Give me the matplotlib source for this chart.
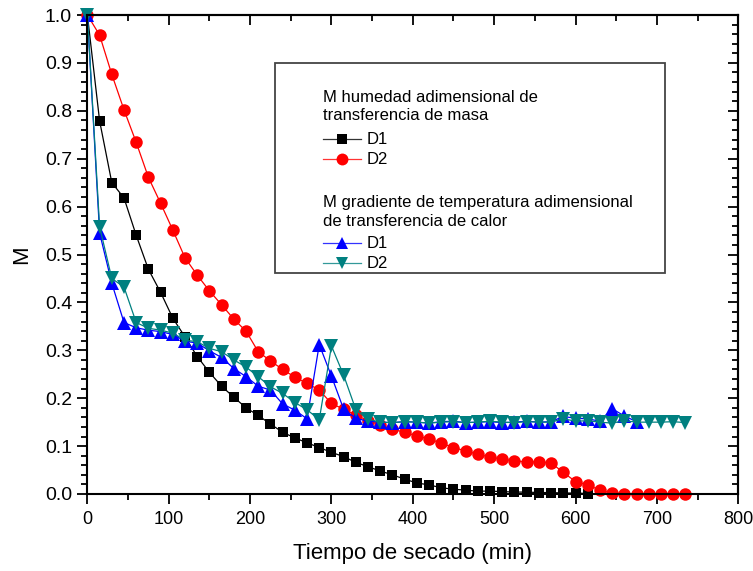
import matplotlib
matplotlib.use("Agg")
import matplotlib.pyplot as plt
from matplotlib.ticker import MultipleLocator
from matplotlib.lines import Line2D
from matplotlib.patches import Rectangle

plt.rcParams['font.family'] = ['Liberation Sans', 'DejaVu Sans']

# ---- data ----
t_d1_mass = [0, 15, 30, 45, 60, 75, 90, 105, 120, 135, 150, 165, 180, 195, 210, 225, 240, 255,
             270, 285, 300, 315, 330, 345, 360, 375, 390, 405, 420, 435, 450, 465, 480, 495,
             510, 525, 540, 555, 570, 585, 600, 615]
m_d1_mass = [1.0, 0.779, 0.650, 0.618, 0.540, 0.469, 0.421, 0.367, 0.328, 0.287, 0.254, 0.225,
             0.202, 0.180, 0.164, 0.146, 0.129, 0.117, 0.107, 0.097, 0.087, 0.078, 0.066, 0.057,
             0.048, 0.040, 0.031, 0.023, 0.019, 0.013, 0.010, 0.008, 0.006, 0.006, 0.005, 0.004,
             0.004, 0.003, 0.003, 0.002, 0.002, 0.001]

t_d2_mass = [0, 15, 30, 45, 60, 75, 90, 105, 120, 135, 150, 165, 180, 195, 210, 225, 240, 255,
             270, 285, 300, 315, 330, 345, 360, 375, 390, 405, 420, 435, 450, 465, 480, 495,
             510, 525, 540, 555, 570, 585, 600, 615, 630, 645, 660, 675, 690, 705, 720, 735]
m_d2_mass = [1.0, 0.958, 0.876, 0.802, 0.734, 0.661, 0.607, 0.551, 0.493, 0.457, 0.424, 0.395,
             0.365, 0.340, 0.297, 0.278, 0.260, 0.244, 0.231, 0.217, 0.189, 0.177, 0.165, 0.153,
             0.144, 0.135, 0.129, 0.121, 0.115, 0.106, 0.097, 0.090, 0.083, 0.077, 0.073, 0.069,
             0.067, 0.067, 0.065, 0.045, 0.026, 0.019, 0.008, 0.002, 0.001, 0.0, 0.0, 0.0, 0.0, 0.0]

t_d1_heat = [0, 15, 30, 45, 60, 75, 90, 105, 120, 135, 150, 165, 180, 195, 210, 225, 240, 255,
             270, 285, 300, 315, 330, 345, 360, 375, 390, 405, 420, 435, 450, 465, 480, 495,
             510, 525, 540, 555, 570, 585, 600, 615, 630, 645, 660, 675]
m_d1_heat = [1.0, 0.545, 0.440, 0.358, 0.347, 0.342, 0.339, 0.333, 0.319, 0.315, 0.299, 0.285,
             0.262, 0.245, 0.225, 0.217, 0.188, 0.175, 0.157, 0.312, 0.246, 0.177, 0.158, 0.152,
             0.150, 0.149, 0.151, 0.150, 0.148, 0.151, 0.152, 0.149, 0.150, 0.151, 0.149, 0.150,
             0.152, 0.150, 0.151, 0.162, 0.158, 0.157, 0.152, 0.178, 0.163, 0.151]

t_d2_heat = [0, 15, 30, 45, 60, 75, 90, 105, 120, 135, 150, 165, 180, 195, 210, 225, 240, 255,
             270, 285, 300, 315, 330, 345, 360, 375, 390, 405, 420, 435, 450, 465, 480, 495,
             510, 525, 540, 555, 570, 585, 600, 615, 630, 645, 660, 675, 690, 705, 720, 735]
m_d2_heat = [1.0, 0.558, 0.450, 0.432, 0.358, 0.346, 0.342, 0.336, 0.321, 0.318, 0.304, 0.297,
             0.280, 0.265, 0.245, 0.224, 0.210, 0.191, 0.176, 0.155, 0.309, 0.248, 0.176, 0.156,
             0.150, 0.149, 0.151, 0.150, 0.148, 0.150, 0.151, 0.149, 0.150, 0.152, 0.150, 0.149,
             0.151, 0.150, 0.150, 0.157, 0.152, 0.153, 0.150, 0.148, 0.153, 0.150, 0.150, 0.150,
             0.151, 0.149]

x_ticks = [0, 100, 200, 300, 400, 500, 600, 700, 800]
y_ticks = [0.0, 0.1, 0.2, 0.3, 0.4, 0.5, 0.6, 0.7, 0.8, 0.9, 1.0]

legend_title_mass = "M humedad adimensional de\ntransferencia de masa"
legend_title_heat = "M gradiente de temperatura adimensional\nde transferencia de calor"
labels = ["D1", "D2", "D1", "D2"]

# ---- styles ----
styles = [
    dict(color="black", marker="s", ms=7.5),
    dict(color="red", marker="o", ms=9),
    dict(color="blue", marker="^", ms=9.5),
    dict(color="#008080", marker="v", ms=9.5),
]

fig = plt.figure(figsize=(7.53, 5.71), dpi=100)
ax = fig.add_axes([87.4 / 753, 1 - 494 / 571, 650.8 / 753, 479 / 571])

series = [(t_d1_mass, m_d1_mass), (t_d2_mass, m_d2_mass),
          (t_d1_heat, m_d1_heat), (t_d2_heat, m_d2_heat)]
for (tx, my), st in zip(series, styles):
    ax.plot(tx, my, color=st["color"], marker=st["marker"], markersize=st["ms"],
            linewidth=0.9, markeredgewidth=0, clip_on=False)

ax.set_xlim(0, 800)
ax.set_ylim(0, 1.0)
ax.set_xticks(x_ticks)
ax.set_yticks(y_ticks)
ax.set_yticklabels([f"{v:.1f}" for v in y_ticks])
ax.xaxis.set_minor_locator(MultipleLocator(50))
ax.yaxis.set_minor_locator(MultipleLocator(0.02))
ax.tick_params(which='both', direction='out', top=False, right=False, width=1.3)
ax.tick_params(which='major', length=7)
ax.tick_params(which='minor', length=4)
ax.tick_params(axis='x', labelsize=13, pad=5)
ax.tick_params(axis='y', labelsize=14, pad=4)
for sp in ax.spines.values():
    sp.set_linewidth(1.5)

secx = ax.secondary_xaxis('top')
secx.set_xticks(x_ticks)
secx.xaxis.set_minor_locator(MultipleLocator(50))
secx.tick_params(which='both', direction='in', labeltop=False, width=1.3)
secx.tick_params(which='major', length=7)
secx.tick_params(which='minor', length=4)
secx.spines['top'].set_linewidth(1.5)

secy = ax.secondary_yaxis('right')
secy.set_yticks(y_ticks)
secy.yaxis.set_minor_locator(MultipleLocator(0.02))
secy.tick_params(which='both', direction='in', labelright=False, width=1.3)
secy.tick_params(which='major', length=7)
secy.tick_params(which='minor', length=4)
secy.spines['right'].set_linewidth(1.5)

ax.set_xlabel("Tiempo de secado (min)", fontsize=16, labelpad=11)
ax.set_ylabel("M", fontsize=16, labelpad=9)

# ---- legend (manual, Origin style) ----
def px2ax(xp, yp):
    return ((xp - 87.4) / 650.8, (494 - yp) / 479)

x0, y0 = px2ax(275, 273)
x1, y1 = px2ax(665, 63)
ax.add_patch(Rectangle((x0, y0), x1 - x0, y1 - y0, transform=ax.transAxes,
                       facecolor="white", edgecolor="#444444", linewidth=1.3, zorder=5))

fs = 12
tx_l, _ = px2ax(323.3, 0)
hx0, _ = px2ax(323.3, 0)
hx1, _ = px2ax(360.7, 0)
hxm, _ = px2ax(342, 0)
lx, _ = px2ax(366.7, 0)

_, yy = px2ax(0, 107)
ax.text(tx_l, yy, legend_title_mass, transform=ax.transAxes, fontsize=fs,
        va='center', ha='left', linespacing=1.25, zorder=6)
_, yy = px2ax(0, 212)
ax.text(tx_l, yy, legend_title_heat, transform=ax.transAxes, fontsize=fs,
        va='center', ha='left', linespacing=1.25, zorder=6)

row_y = [139.3, 159.3, 243.3, 263.3]
for ypx, st, lab in zip(row_y, styles, labels):
    _, yy = px2ax(0, ypx)
    ax.add_line(Line2D([hx0, hx1], [yy, yy], transform=ax.transAxes, color=st["color"],
                       linewidth=0.9, alpha=0.8, zorder=6))
    ax.add_line(Line2D([hxm], [yy], transform=ax.transAxes, color=st["color"],
                       marker=st["marker"], markersize=st["ms"] * 0.95, markeredgewidth=0,
                       linestyle='none', zorder=7))
    ax.text(lx, yy, lab, transform=ax.transAxes, fontsize=fs, va='center', ha='left', zorder=6)

fig.savefig("out.png", dpi=100)
